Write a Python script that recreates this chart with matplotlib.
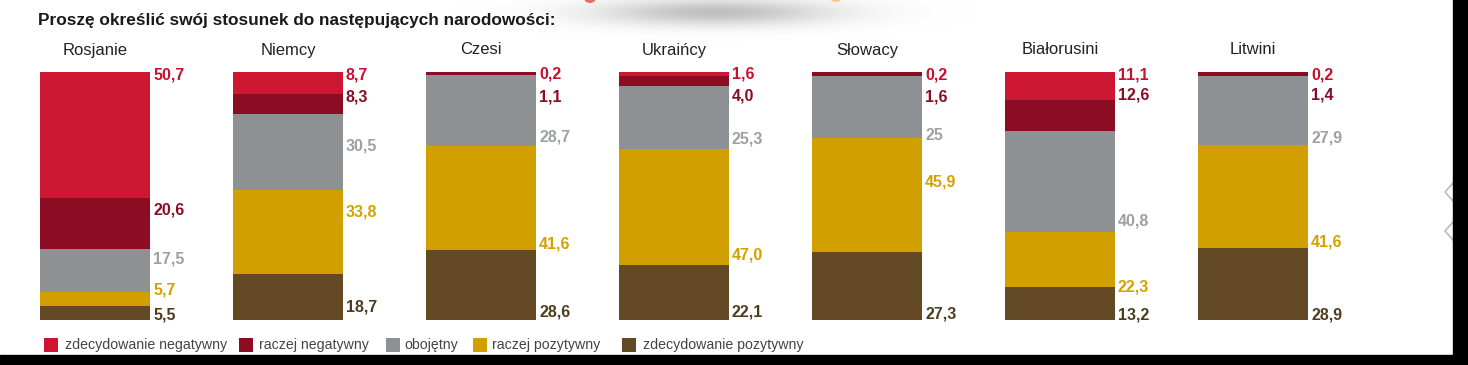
import numpy as np
import matplotlib
matplotlib.use("Agg")
import matplotlib.pyplot as plt
from matplotlib.patches import Rectangle, Ellipse
from matplotlib.lines import Line2D

# ---------------- data ----------------
categories = ["Rosjanie", "Niemcy", "Czesi", "Ukraińcy", "Słowacy", "Białorusini", "Litwini"]
series_names = ["zdecydowanie negatywny", "raczej negatywny", "obojętny",
                "raczej pozytywny", "zdecydowanie pozytywny"]
zdec_neg = [50.7, 8.7, 0.2, 1.6, 0.2, 11.1, 0.2]
raczej_neg = [20.6, 8.3, 1.1, 4.0, 1.6, 12.6, 1.4]
obojetny = [17.5, 30.5, 28.7, 25.3, 25, 40.8, 27.9]
raczej_poz = [5.7, 33.8, 41.6, 47.0, 45.9, 22.3, 41.6]
zdec_poz = [5.5, 18.7, 28.6, 22.1, 27.3, 13.2, 28.9]
series = [zdec_neg, raczej_neg, obojetny, raczej_poz, zdec_poz]

title = "Proszę określić swój stosunek do następujących narodowości:"

# ---------------- style / layout ----------------
bar_colors = ["#CD1632", "#8C0C24", "#8E9193", "#D29F00", "#634A24"]
label_colors = ["#C8112F", "#8A0C25", "#9EA0A2", "#D4A200", "#4E3C1E"]
# label placement: depth from the top of the bar (in % of bar height)
label_depth = [
    [1.2, 55.6, 75.4, 87.9, 98.0],
    [1.2, 10.1, 29.8, 56.5, 94.8],
    [0.8, 10.1, 26.2, 69.4, 96.8],
    [0.8, 9.7, 27.0, 73.8, 96.8],
    [1.2, 10.1, 25.8, 44.4, 97.6],
    [1.2, 9.3, 60.1, 86.7, 98.0],
    [1.2, 9.3, 26.6, 68.5, 98.0],
]

W, H = 1468, 365
fig = plt.figure(figsize=(W / 100, H / 100), dpi=100)
fig.patch.set_facecolor("white")

# pixel layout of the plotting area
x0_px, step_px, bar_w_px = 95, 193, 110
top_px, bot_px = 72, 320
ax = fig.add_axes([0, (H - bot_px) / H, 1, (bot_px - top_px) / H])
ax.set_xlim(-x0_px / step_px, (W - x0_px) / step_px)
ax.set_ylim(0, 100)
ax.axis("off")

x = np.arange(len(categories))
bw = bar_w_px / step_px
cum = np.zeros(len(categories))
for s, vals in enumerate(series):
    vals = np.array(vals, dtype=float)
    cum_after = cum + vals
    ax.bar(x, vals, bottom=100 - cum_after, width=bw, color=bar_colors[s],
           linewidth=0, zorder=2)
    cum = cum_after

def fmt(v):
    if isinstance(v, int):
        return str(v)
    return f"{v:.1f}".replace(".", ",")

lab_x_off = bw / 2 + 3 / step_px
for i in range(len(categories)):
    for s, vals in enumerate(series):
        ax.text(x[i] + lab_x_off, 100 - label_depth[i][s], fmt(vals[i]),
                color=label_colors[s], fontsize=11.5, fontweight="bold",
                family="Liberation Sans", ha="left", va="center",
                clip_on=False)
    ax.text(x[i], 100 + (top_px - 50) / ((bot_px - top_px) / 100), categories[i],
            color="#222222", fontsize=12, family="Liberation Sans",
            ha="center", va="center", clip_on=False)

# title
fig.text(38 / W, 1 - 20 / H, title, fontsize=12.4, fontweight="bold",
         family="Liberation Sans", color="#1a1a1a", ha="left", va="center")

# legend (manual)
leg_sq_px = [44, 239, 386, 473, 622]
leg_tx_px = [65, 259, 404, 492, 643]
for s in range(5):
    fig.patches.append(Rectangle((leg_sq_px[s] / W, 1 - 352 / H), 14 / W, 14 / H,
                                 transform=fig.transFigure, color=bar_colors[s],
                                 linewidth=0))
    fig.text(leg_tx_px[s] / W, 1 - 345 / H, series_names[s], fontsize=10.2,
             family="Liberation Sans", color="#444444",
             ha="left", va="center")

# decorative blurred shadow at top
bg = fig.add_axes([0, 0, 1, 1], zorder=-1)
bg.set_xlim(0, W)
bg.set_ylim(H, 0)
bg.axis("off")
gx, gy = np.meshgrid(np.linspace(0, W, 600), np.linspace(0, 60, 60))
d = ((gx - 715) / 150) ** 2 + ((gy - 12) / 17) ** 2
alpha = np.clip(0.55 * np.exp(-d * 1.6), 0, 1)
img = np.zeros((60, 600, 4))
img[..., :3] = 0.55
img[..., 3] = alpha
bg.imshow(img, extent=(0, W, 60, 0), aspect="auto", interpolation="bilinear")
bg.add_patch(Ellipse((590, -2), 12, 10, color="#E2342A", alpha=0.7, linewidth=0))
bg.add_patch(Ellipse((836, -2), 12, 8, color="#F4B040", alpha=0.6, linewidth=0))

# chevrons at right
for cy in (192, 231):
    fig.add_artist(Line2D([1453 / W, 1445 / W, 1453 / W],
                          [1 - (cy - 9) / H, 1 - cy / H, 1 - (cy + 9) / H],
                          transform=fig.transFigure, color="#BBBBBB", lw=1.2))

# black frame parts (right and bottom)
fig.patches.append(Rectangle((1453 / W, 0), (W - 1453) / W, 1,
                             transform=fig.transFigure, color="black", zorder=10))
fig.patches.append(Rectangle((0, 0), 1, (H - 355) / H,
                             transform=fig.transFigure, color="black", zorder=10))

fig.savefig("out.png", dpi=100, facecolor="white")
